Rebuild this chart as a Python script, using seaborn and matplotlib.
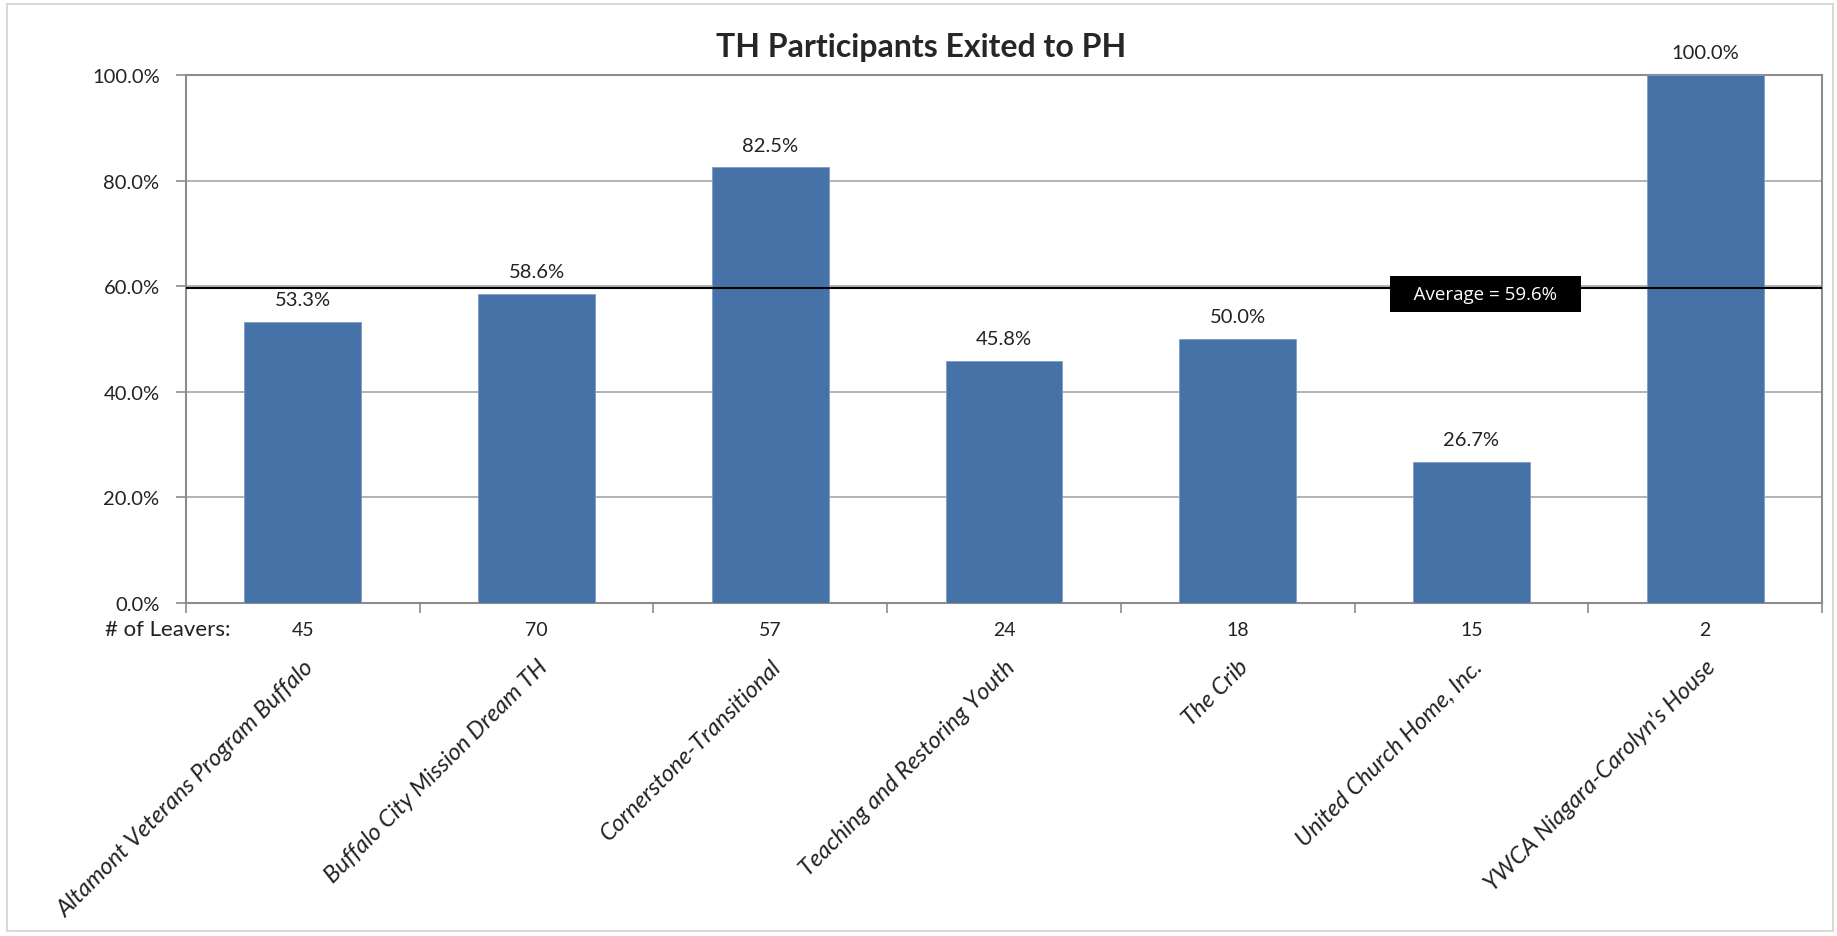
import numpy as np
import pandas as pd
import seaborn as sns
from matplotlib import pyplot as plt
from matplotlib.ticker import PercentFormatter
from matplotlib.patches import Rectangle
import matplotlib.transforms as mtransforms

# chart data
programs = ['Altamont Veterans Program Buffalo', 'Buffalo City Mission Dream TH',
            'Cornerstone-Transitional', 'Teaching and Restoring Youth', 'The Crib',
            'United Church Home, Inc.', "YWCA Niagara-Carolyn's House"]
exit_rate = [53.3, 58.6, 82.5, 45.8, 50.0, 26.7, 100.0]
leavers = [45, 70, 57, 24, 18, 15, 2]
average = 59.6
yticks = [0, 20, 40, 60, 80, 100]

df = pd.DataFrame({'program': programs, 'rate': exit_rate})

sns.set_style("white")
plt.rcParams['font.family'] = ['Lato', 'DejaVu Sans']

bar_color = '#4573a7'
grid_color = '#a6a6a6'
axis_color = '#8c8c8c'
txt = '#222222'

fig = plt.figure(figsize=(18.37, 9.37), dpi=100)
ax = fig.add_axes([186/1837, 1-604/937, 1636/1837, 528/937])

sns.barplot(data=df, x='program', y='rate', color=bar_color, saturation=1,
            width=0.5, ax=ax, zorder=3, edgecolor='#7f9cc4', linewidth=0.6)

ax.set_ylim(0, 100)
ax.set_xlim(-0.5, len(programs)-0.5)
ax.set_yticks(yticks)
ax.yaxis.set_major_formatter(PercentFormatter(decimals=1))
ax.grid(axis='y', color=grid_color, lw=1.2, zorder=0)
ax.set_axisbelow(True)
for s in ax.spines.values():
    s.set_color(axis_color)
    s.set_linewidth(1.5)
ax.set_xlabel('')
ax.set_ylabel('')

ax.tick_params(axis='y', left=True, length=7, width=1.2, color=axis_color,
               labelsize=14.5, pad=12, labelcolor=txt)
ax.set_xticks(range(len(programs)))
ax.set_xticklabels(programs, rotation=45, ha='right', va='top',
                   rotation_mode='anchor', fontsize=17, style='italic')
ax.tick_params(axis='x', bottom=True, length=0, pad=38, labelcolor=txt)
ax.set_xticks(np.arange(len(programs)+1)-0.5, minor=True)
ax.tick_params(axis='x', which='minor', bottom=True, length=7, width=1.2,
               color=axis_color)

# value labels on bars
ax.bar_label(ax.containers[0], labels=[f'{v:.1f}%' for v in exit_rate],
             padding=10, fontsize=14.5, color=txt)

# average line and its label
ax.axhline(average, color='black', lw=1.5, zorder=4)
ax.text(5.06, average-1.1, f'   Average = {average:.1f}%   ', color='white',
        fontsize=13.5, family=['Open Sans', 'DejaVu Sans'], ha='center', va='center',
        zorder=5, bbox=dict(boxstyle='square,pad=0.5', fc='black', ec='none'))

# number of leavers row
trans = mtransforms.blended_transform_factory(ax.transData, ax.transAxes)
for i, n in enumerate(leavers):
    ax.text(i, -0.05, str(n), transform=trans, ha='center', va='center',
            fontsize=14, color=txt)
ax.text(-0.31, -0.05, '# of Leavers:', transform=trans, ha='right', va='center',
        fontsize=16, color=txt)

fig.text(921/1837, 1-47/937, 'TH Participants Exited to PH', ha='center',
         va='center', fontsize=23, fontweight='bold')

# chart area border
fig.patches.append(Rectangle((7/1837, 5/937), 1826/1837, 927/937,
                             transform=fig.transFigure, fill=False,
                             ec='#d9d9d9', lw=1.5))

fig.savefig('out.png', dpi=100)
